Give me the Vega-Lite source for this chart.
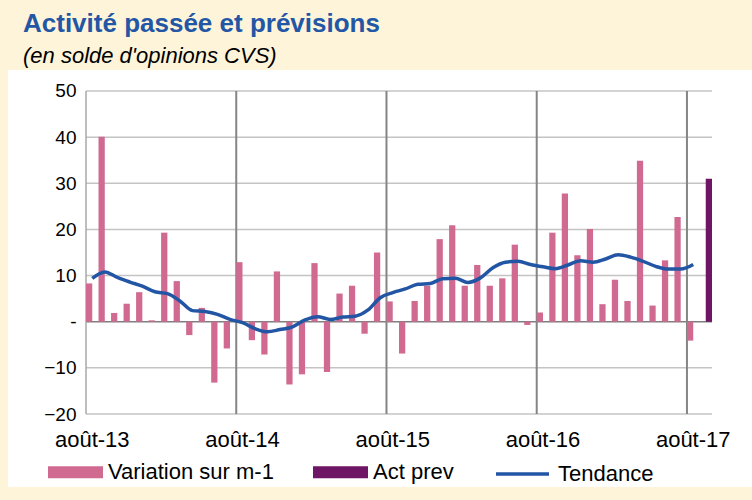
{
  "$schema": "https://vega.github.io/schema/vega-lite/v6.json",
  "width": 744,
  "height": 417,
  "autosize": {"type": "none"},
  "padding": {"left": 8, "top": 70, "right": 0, "bottom": 13},
  "background": "#FEF4DA",
  "config": {
    "font": "Liberation Sans",
    "view": {"fill": "white", "stroke": null}
  },
  "title": {
    "text": "Activité passée et prévisions",
    "subtitle": "(en solde d'opinions CVS)",
    "anchor": "start",
    "frame": "group",
    "offset": 3,
    "dx": 15,
    "font": "Liberation Sans",
    "fontSize": 26,
    "fontWeight": "bold",
    "color": "#2357A5",
    "subtitleFont": "Liberation Sans",
    "subtitleFontSize": 22,
    "subtitleFontStyle": "italic",
    "subtitleColor": "black",
    "subtitlePadding": 9
  },
  "datasets": {
    "grille": [{"v": -20}, {"v": -10}, {"v": 0}, {"v": 10}, {"v": 20}, {"v": 30}, {"v": 40}, {"v": 50}]
  },
  "data": {
    "values": [
      {"mois": "août-13", "variation": 8.3, "tendance": 9.4},
      {"mois": "sept-13", "variation": 40.1, "tendance": 10.8},
      {"mois": "oct-13", "variation": 1.9, "tendance": 9.6},
      {"mois": "nov-13", "variation": 3.9, "tendance": 8.6},
      {"mois": "déc-13", "variation": 6.4, "tendance": 7.7},
      {"mois": "janv-14", "variation": 0.3, "tendance": 6.5},
      {"mois": "févr-14", "variation": 19.3, "tendance": 6.1},
      {"mois": "mars-14", "variation": 8.8, "tendance": 4.5},
      {"mois": "avr-14", "variation": -2.9, "tendance": 2.4},
      {"mois": "mai-14", "variation": 3.0, "tendance": 2.2},
      {"mois": "juin-14", "variation": -13.2, "tendance": 1.6},
      {"mois": "juil-14", "variation": -5.8, "tendance": 0.5},
      {"mois": "août-14", "variation": 12.9, "tendance": -0.2},
      {"mois": "sept-14", "variation": -4.0, "tendance": -1.5},
      {"mois": "oct-14", "variation": -7.1, "tendance": -2.2},
      {"mois": "nov-14", "variation": 10.9, "tendance": -1.7},
      {"mois": "déc-14", "variation": -13.6, "tendance": -1.1},
      {"mois": "janv-15", "variation": -11.4, "tendance": 0.4},
      {"mois": "févr-15", "variation": 12.7, "tendance": 1.1},
      {"mois": "mars-15", "variation": -10.9, "tendance": 0.5},
      {"mois": "avr-15", "variation": 6.1, "tendance": 1.0},
      {"mois": "mai-15", "variation": 7.8, "tendance": 1.2},
      {"mois": "juin-15", "variation": -2.6, "tendance": 2.5},
      {"mois": "juil-15", "variation": 15.0, "tendance": 5.2},
      {"mois": "août-15", "variation": 4.4, "tendance": 6.3},
      {"mois": "sept-15", "variation": -6.9, "tendance": 7.1},
      {"mois": "oct-15", "variation": 4.5, "tendance": 8.1},
      {"mois": "nov-15", "variation": 7.8, "tendance": 8.3},
      {"mois": "déc-15", "variation": 17.9, "tendance": 9.3},
      {"mois": "janv-16", "variation": 20.9, "tendance": 9.4},
      {"mois": "févr-16", "variation": 7.8, "tendance": 8.5},
      {"mois": "mars-16", "variation": 12.3, "tendance": 9.5},
      {"mois": "avr-16", "variation": 7.8, "tendance": 11.7},
      {"mois": "mai-16", "variation": 9.4, "tendance": 12.9},
      {"mois": "juin-16", "variation": 16.7, "tendance": 13.1},
      {"mois": "juil-16", "variation": -0.7, "tendance": 12.4},
      {"mois": "août-16", "variation": 2.0, "tendance": 11.9},
      {"mois": "sept-16", "variation": 19.3, "tendance": 11.5},
      {"mois": "oct-16", "variation": 27.8, "tendance": 12.3},
      {"mois": "nov-16", "variation": 14.4, "tendance": 13.2},
      {"mois": "déc-16", "variation": 20.1, "tendance": 12.9},
      {"mois": "janv-17", "variation": 3.8, "tendance": 13.6},
      {"mois": "févr-17", "variation": 9.1, "tendance": 14.5},
      {"mois": "mars-17", "variation": 4.5, "tendance": 14.0},
      {"mois": "avr-17", "variation": 34.9, "tendance": 13.1},
      {"mois": "mai-17", "variation": 3.5, "tendance": 12.0},
      {"mois": "juin-17", "variation": 13.3, "tendance": 11.4},
      {"mois": "juil-17", "variation": 22.7, "tendance": 11.4},
      {"mois": "août-17", "variation": -4.1, "tendance": 12.4},
      {"mois": "sept-17", "actprev": 31.0}
    ]
  },
  "layer": [
    {
      "data": {"name": "grille"},
      "mark": {"type": "rule", "strokeWidth": 1.5},
      "encoding": {
        "x": {"datum": "août-13", "type": "ordinal", "bandPosition": 0},
        "x2": {"datum": "sept-17", "bandPosition": 1},
        "y": {"field": "v", "type": "quantitative"},
        "stroke": {"condition": {"test": "datum.v === 0", "value": "#7F7F7F"}, "value": "#C4C4C4"}
      }
    },
    {
      "transform": [{"filter": "indexof(datum.mois, 'août') === 0"}],
      "mark": {"type": "rule"},
      "encoding": {
        "x": {"field": "mois", "type": "ordinal", "bandPosition": 0},
        "y": {"datum": 50, "type": "quantitative"},
        "y2": {"datum": -20},
        "stroke": {"condition": {"test": "datum.mois === 'août-13'", "value": "#A8A8A8"}, "value": "#858585"},
        "strokeWidth": {"condition": {"test": "datum.mois === 'août-13'", "value": 1.5}, "value": 2}
      }
    },
    {
      "transform": [
        {"fold": ["variation", "actprev"], "as": ["serie", "valeur"]},
        {"filter": "datum.valeur != null"}
      ],
      "mark": {"type": "bar", "strokeWidth": 0},
      "encoding": {
        "x": {
          "field": "mois",
          "type": "ordinal",
          "scale": {
            "domain": ["août-13","sept-13","oct-13","nov-13","déc-13","janv-14","févr-14","mars-14","avr-14","mai-14","juin-14","juil-14","août-14","sept-14","oct-14","nov-14","déc-14","janv-15","févr-15","mars-15","avr-15","mai-15","juin-15","juil-15","août-15","sept-15","oct-15","nov-15","déc-15","janv-16","févr-16","mars-16","avr-16","mai-16","juin-16","juil-16","août-16","sept-16","oct-16","nov-16","déc-16","janv-17","févr-17","mars-17","avr-17","mai-17","juin-17","juil-17","août-17","sept-17"],
            "range": [78, 704],
            "paddingInner": 0,
            "paddingOuter": 0
          },
          "axis": {
            "values": ["août-13", "août-14", "août-15", "août-16", "août-17"],
            "title": null,
            "orient": "bottom",
            "offset": -73,
            "domain": false,
            "ticks": false,
            "tickSize": 0,
            "grid": false,
            "labelAngle": 0,
            "labelAlign": "center",
            "labelFontSize": 22,
            "labelColor": "black",
            "labelPadding": 15,
            "labelBaseline": "top"
          }
        },
        "xOffset": {
          "field": "serie",
          "scale": {"domain": ["variation", "actprev"], "paddingInner": 0, "paddingOuter": 0}
        },
        "y": {
          "field": "valeur",
          "type": "quantitative",
          "scale": {"domain": [-35.82, 54.551], "nice": false, "zero": false},
          "axis": {
            "values": [-20, -10, 0, 10, 20, 30, 40, 50],
            "title": null,
            "offset": -78,
            "domain": false,
            "ticks": false,
            "tickSize": 0,
            "grid": false,
            "labelFontSize": 19,
            "labelColor": "black",
            "labelPadding": 10,
            "labelExpr": "datum.value === 0 ? '-' : datum.label"
          }
        },
        "color": {
          "field": "serie",
          "type": "nominal",
          "scale": {"domain": ["variation", "actprev"], "range": ["#D06A91", "#6F1565"]},
          "legend": {
            "orient": "none",
            "legendX": 40,
            "legendY": 374.5,
            "direction": "horizontal",
            "title": null,
            "padding": 0,
            "symbolType": "M-1,-0.22H1V0.22H-1Z",
            "symbolSize": 3025,
            "symbolStrokeWidth": 0,
            "symbolOpacity": 1,
            "labelFontSize": 22,
            "labelLimit": 400,
            "labelColor": "black",
            "labelOffset": 5,
            "columnPadding": 39,
            "labelExpr": "datum.value === 'variation' ? 'Variation sur m-1' : 'Act prev'"
          }
        }
      }
    },
    {
      "transform": [{"filter": "datum.tendance != null"}],
      "mark": {"type": "line", "strokeWidth": 3.5, "interpolate": "monotone"},
      "encoding": {
        "x": {"field": "mois", "type": "ordinal"},
        "y": {"field": "tendance", "type": "quantitative"},
        "stroke": {
          "datum": "Tendance",
          "type": "nominal",
          "scale": {"range": ["#2256A4"]},
          "legend": {
            "orient": "none",
            "legendX": 486,
            "legendY": 375.5,
            "title": null,
            "padding": 0,
            "symbolType": "stroke",
            "symbolSize": 2809,
            "symbolStrokeWidth": 3.5,
            "labelFontSize": 22,
            "labelLimit": 400,
            "labelColor": "black",
            "labelOffset": 7
          }
        }
      }
    }
  ]
}
